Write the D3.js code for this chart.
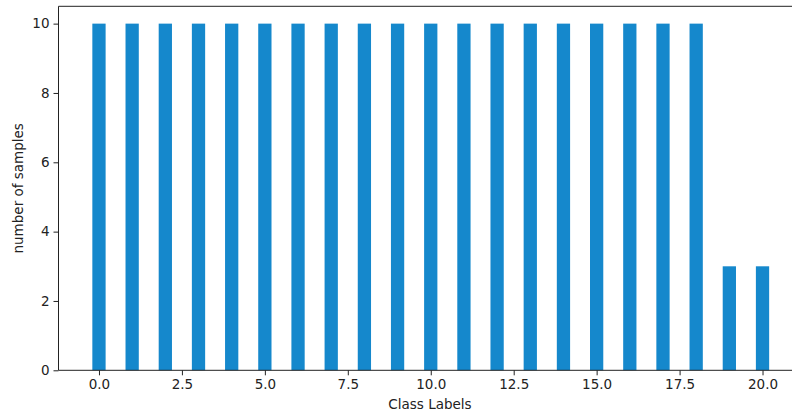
<!DOCTYPE html>
<html>
<head>
<meta charset="utf-8">
<script src="https://cdn.jsdelivr.net/npm/d3@7"></script>
<style>
  html, body { margin: 0; padding: 0; background: #fff; }
  svg { display: block; font-family: "DejaVu Sans", sans-serif; }
</style>
</head>
<body>
<svg id="chart" width="792" height="416"></svg>
<script>
// Sample counts per class label
const classLabels = [0, 1, 2, 3, 4, 5, 6, 7, 8, 9, 10, 11, 12, 13, 14, 15, 16, 17, 18, 19, 20];
const sampleCounts = [10, 10, 10, 10, 10, 10, 10, 10, 10, 10, 10, 10, 10, 10, 10, 10, 10, 10, 10, 3, 3];
const xTicks = [0, 2.5, 5, 7.5, 10, 12.5, 15, 17.5, 20];
const yTicks = [0, 2, 4, 6, 8, 10];

const barWidth = 0.4;
const fontSize = "13.5px";
const svg = d3.select("#chart");
const margin = { left: 58.5, top: 6.3, bottom: 370.3, right: 803 };

const x = d3.scaleLinear().domain([-1.22, 21.22]).range([margin.left, margin.right]);
const y = d3.scaleLinear().domain([0, 10.5]).range([margin.bottom, margin.top]);

// Bars
svg.append("g")
  .selectAll("rect")
  .data(classLabels)
  .join("rect")
  .attr("x", (d) => x(d - barWidth / 2))
  .attr("width", (d) => x(d + barWidth / 2) - x(d - barWidth / 2))
  .attr("y", (d, i) => y(sampleCounts[i]))
  .attr("height", (d, i) => y(0) - y(sampleCounts[i]))
  .attr("fill", "#1588cc");

// Axes
const xAxis = d3.axisBottom(x).tickValues(xTicks).tickFormat(d3.format(".1f")).tickSizeOuter(0).tickSize(5).tickPadding(4);
const yAxis = d3.axisLeft(y).tickValues(yTicks).tickFormat(d3.format("d")).tickSizeOuter(0).tickSize(5).tickPadding(4);

const gx = svg.append("g").attr("transform", `translate(0,${margin.bottom})`).call(xAxis);
const gy = svg.append("g").attr("transform", `translate(${margin.left},0)`).call(yAxis);

[gx, gy].forEach((g) => {
  g.select(".domain").remove();
  g.selectAll("line").attr("stroke", "#222").attr("stroke-width", 1);
  g.selectAll("text").attr("fill", "#222").style("font-size", fontSize).style("font-family", "DejaVu Sans");
});

// Spines
const spine = svg.append("g").attr("fill", "none").attr("stroke", "#222").attr("stroke-width", 1);
spine.append("line").attr("x1", margin.left).attr("x2", margin.right).attr("y1", margin.bottom).attr("y2", margin.bottom);
spine.append("line").attr("x1", margin.left).attr("x2", margin.right).attr("y1", margin.top).attr("y2", margin.top);
spine.append("line").attr("x1", margin.left).attr("x2", margin.left).attr("y1", margin.top).attr("y2", margin.bottom);

// Axis titles
svg.append("text")
  .attr("x", 430)
  .attr("y", 409)
  .attr("text-anchor", "middle")
  .attr("fill", "#222")
  .style("font-size", fontSize)
  .text("Class Labels");

svg.append("text")
  .attr("transform", `translate(23,${(margin.top + margin.bottom) / 2}) rotate(-90)`)
  .attr("text-anchor", "middle")
  .attr("fill", "#222")
  .style("font-size", fontSize)
  .text("number of samples");
</script>
</body>
</html>
